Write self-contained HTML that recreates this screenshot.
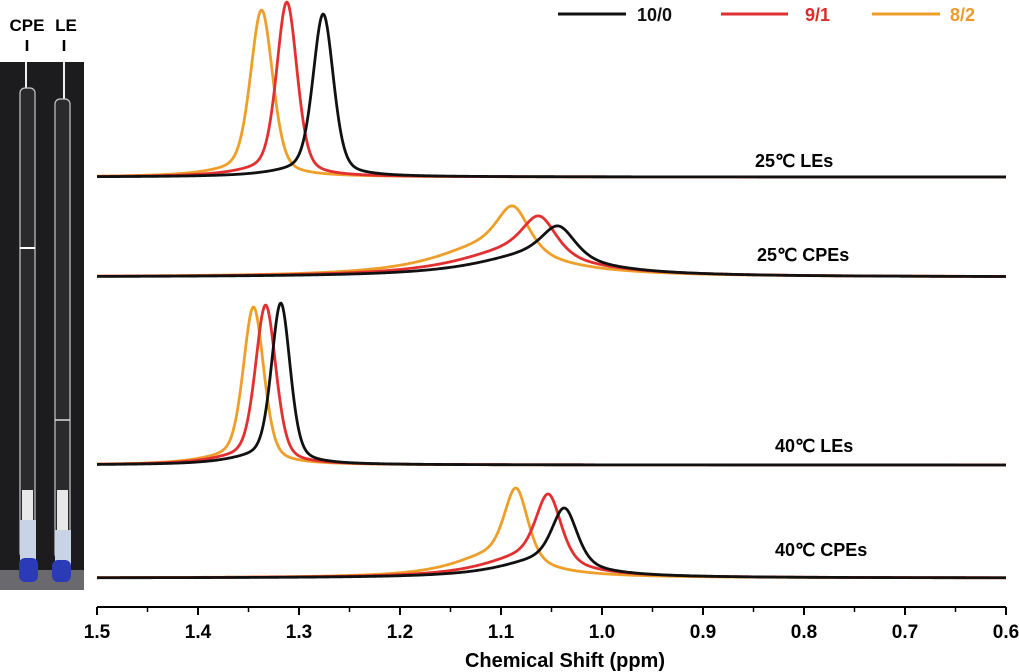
<!DOCTYPE html>
<html><head><meta charset="utf-8">
<style>
html,body{margin:0;padding:0;background:#fff;}
svg{display:block;font-family:"Liberation Sans",Arial,sans-serif;}
</style></head>
<body>
<svg id="chart" width="1019" height="672" viewBox="0 0 1019 672" xmlns="http://www.w3.org/2000/svg">
  <g>
    <text x="27" y="31" font-size="17" font-weight="bold" text-anchor="middle">CPE</text>
    <text x="66" y="31" font-size="17" font-weight="bold" text-anchor="middle">LE</text>
    <line x1="27" y1="40" x2="27" y2="51" stroke="#000" stroke-width="2.5"/>
    <line x1="64" y1="40" x2="64" y2="51" stroke="#000" stroke-width="2.5"/>
    <rect x="0" y="62" width="84" height="518" fill="#1c1c1e"/>
    <rect x="0" y="570" width="84" height="20" fill="#6a6a6e"/>
    <line x1="26" y1="62" x2="26" y2="90" stroke="#eee" stroke-width="2"/>
    <line x1="64" y1="62" x2="64" y2="100" stroke="#eee" stroke-width="2"/>
    <rect x="20" y="88" width="15" height="470" rx="5" fill="#2a2a2c" stroke="#c8c8c8" stroke-width="1.2"/>
    <rect x="55" y="99" width="15" height="460" rx="5" fill="#2a2a2c" stroke="#c8c8c8" stroke-width="1.2"/>
    <line x1="20" y1="248" x2="35" y2="248" stroke="#fff" stroke-width="2"/>
    <line x1="55" y1="420" x2="70" y2="420" stroke="#ddd" stroke-width="1.5"/>
    <rect x="22" y="490" width="11" height="30" fill="#e8e8e8"/>
    <rect x="57" y="490" width="11" height="40" fill="#e8e8e8"/>
    <rect x="20" y="520" width="16" height="45" fill="#c9d3e6"/>
    <rect x="55" y="530" width="16" height="36" fill="#c9d3e6"/>
    <rect x="19" y="558" width="19" height="24" rx="6" fill="#2b3bb8"/>
    <rect x="52" y="560" width="19" height="22" rx="6" fill="#2b3bb8"/>
  </g>
  <g id="axis"></g>
  <g id="curves"></g>
  <g font-size="18" font-weight="bold">
    <text x="755" y="167">25℃ LEs</text>
    <text x="757" y="261">25℃ CPEs</text>
    <text x="775" y="452">40℃ LEs</text>
    <text x="775" y="556">40℃ CPEs</text>
  </g>
  <g font-size="18" font-weight="bold">
    <g>
      <line x1="558" y1="14" x2="626" y2="14" stroke="#111" stroke-width="3"/>
      <text x="637" y="21" fill="#111">10/0</text>
    </g>
    <g>
      <line x1="721" y1="14" x2="788" y2="14" stroke="#e03030" stroke-width="3"/>
      <text x="805" y="21" fill="#d92c2c">9/1</text>
    </g>
    <g>
      <line x1="872" y1="14" x2="940" y2="14" stroke="#ee9f2a" stroke-width="3"/>
      <text x="950" y="21" fill="#ea9a2a">8/2</text>
    </g>
  </g>
</svg>
<script>
const NS="http://www.w3.org/2000/svg";
const xTicks=[1.5,1.4,1.3,1.2,1.1,1.0,0.9,0.8,0.7,0.6];
const xTickLabels=["1.5","1.4","1.3","1.2","1.1","1.0","0.9","0.8","0.7","0.6"];
const seriesNames=["10/0","9/1","8/2"];
const seriesColors=["#111111","#e23030","#ee9f2a"];
const panelNames=["25C LEs","25C CPEs","40C LEs","40C CPEs"];
const panelBaselines=[177,277,465,578];
// peak positions (ppm) per panel, per series [10/0, 9/1, 8/2]
const peakPos25LE=[1.276,1.312,1.337];
const peakPos25CPE=[1.043,1.062,1.088];
const peakPos40LE=[1.318,1.333,1.345];
const peakPos40CPE=[1.037,1.053,1.085];
// peak heights (pixels above baseline)
const peakH25LE=[163,175,167];
const peakH25CPE=[51,61,71];
const peakH40LE=[162,160,158];
const peakH40CPE=[70,84,90];
// half widths (ppm)
const hw25LE=[0.012,0.012,0.013];
const hw25CPE=[0.020,0.020,0.019];
const hw40LE=[0.011,0.012,0.012];
const hw40CPE=[0.015,0.015,0.014];
const peakPos=[peakPos25LE,peakPos25CPE,peakPos40LE,peakPos40CPE];
const peakH=[peakH25LE,peakH25CPE,peakH40LE,peakH40CPE];
const hw=[hw25LE,hw25CPE,hw40LE,hw40CPE];
const broadFrac=[0.03,0.40,0.04,0.22];
const lorFrac=[0.35,0.6,0.35,0.5];

const X0=97,X1=1006,V0=1.5,V1=0.6;
function xScale(v){return X0+(V0-v)/(V0-V1)*(X1-X0);}
const axis=document.getElementById('axis');
const AY=607;
let al=document.createElementNS(NS,'line');
al.setAttribute('x1',X0);al.setAttribute('x2',X1);al.setAttribute('y1',AY);al.setAttribute('y2',AY);
al.setAttribute('stroke','#000');al.setAttribute('stroke-width','2');


axis.appendChild(al);
for(let i=0;i<xTicks.length;i++){
  const x=xScale(xTicks[i]);
  let t=document.createElementNS(NS,'line');
  t.setAttribute('x1',x);t.setAttribute('x2',x);t.setAttribute('y1',AY);t.setAttribute('y2',AY+8);
  t.setAttribute('stroke','#000');t.setAttribute('stroke-width','2');
  
  
  axis.appendChild(t);
  let lb=document.createElementNS(NS,'text');
  lb.setAttribute('x',x);lb.setAttribute('y',AY+31);lb.setAttribute('text-anchor','middle');
  lb.setAttribute('font-size','19');lb.setAttribute('font-weight','bold');
  lb.textContent=xTickLabels[i];
  
  
  axis.appendChild(lb);
  if(i<xTicks.length-1){
    const xm=xScale(xTicks[i]-0.05);
    let m=document.createElementNS(NS,'line');
    m.setAttribute('x1',xm);m.setAttribute('x2',xm);m.setAttribute('y1',AY);m.setAttribute('y2',AY+5);
    m.setAttribute('stroke','#000');m.setAttribute('stroke-width','1.5');
    
    
    axis.appendChild(m);
  }
}
let xt=document.createElementNS(NS,'text');
xt.setAttribute('x',565);xt.setAttribute('y',667);xt.setAttribute('text-anchor','middle');
xt.setAttribute('font-size','20');xt.setAttribute('font-weight','bold');
xt.textContent='Chemical Shift (ppm)';


axis.appendChild(xt);

function lor(x,c,w){return 1/(1+((x-c)/w)*((x-c)/w));}
function gau(x,c,w){const z=(x-c)/w;return Math.exp(-0.693*z*z);}
function pv(x,c,w,eta){return eta*lor(x,c,w)+(1-eta)*gau(x,c,w);}
const curves=document.getElementById('curves');
for(let p=0;p<4;p++){
  for(let s=0;s<3;s++){
    const c=peakPos[p][s],h=peakH[p][s],w=hw[p][s],bf=broadFrac[p],eta=lorFrac[p];
    const f=v=>(1-bf)*pv(v,c,w,eta)+bf*lor(v,c+0.025,w*3.5);
    const norm=f(c);
    let d='';
    for(let px=X0;px<=X1;px+=1){
      const v=V0-(px-X0)/(X1-X0)*(V0-V1);
      const y=f(v)/norm;
      d+=(px===X0?'M':'L')+px+','+(panelBaselines[p]-h*y).toFixed(2);
    }
    let path=document.createElementNS(NS,'path');
    path.setAttribute('d',d);path.setAttribute('fill','none');
    path.setAttribute('stroke',seriesColors[s]);path.setAttribute('stroke-width','2.8');
    path.setAttribute('stroke-linejoin','round');
    
    
    curves.insertBefore(path,curves.firstChild);
  }
}
</script>
</body></html>
